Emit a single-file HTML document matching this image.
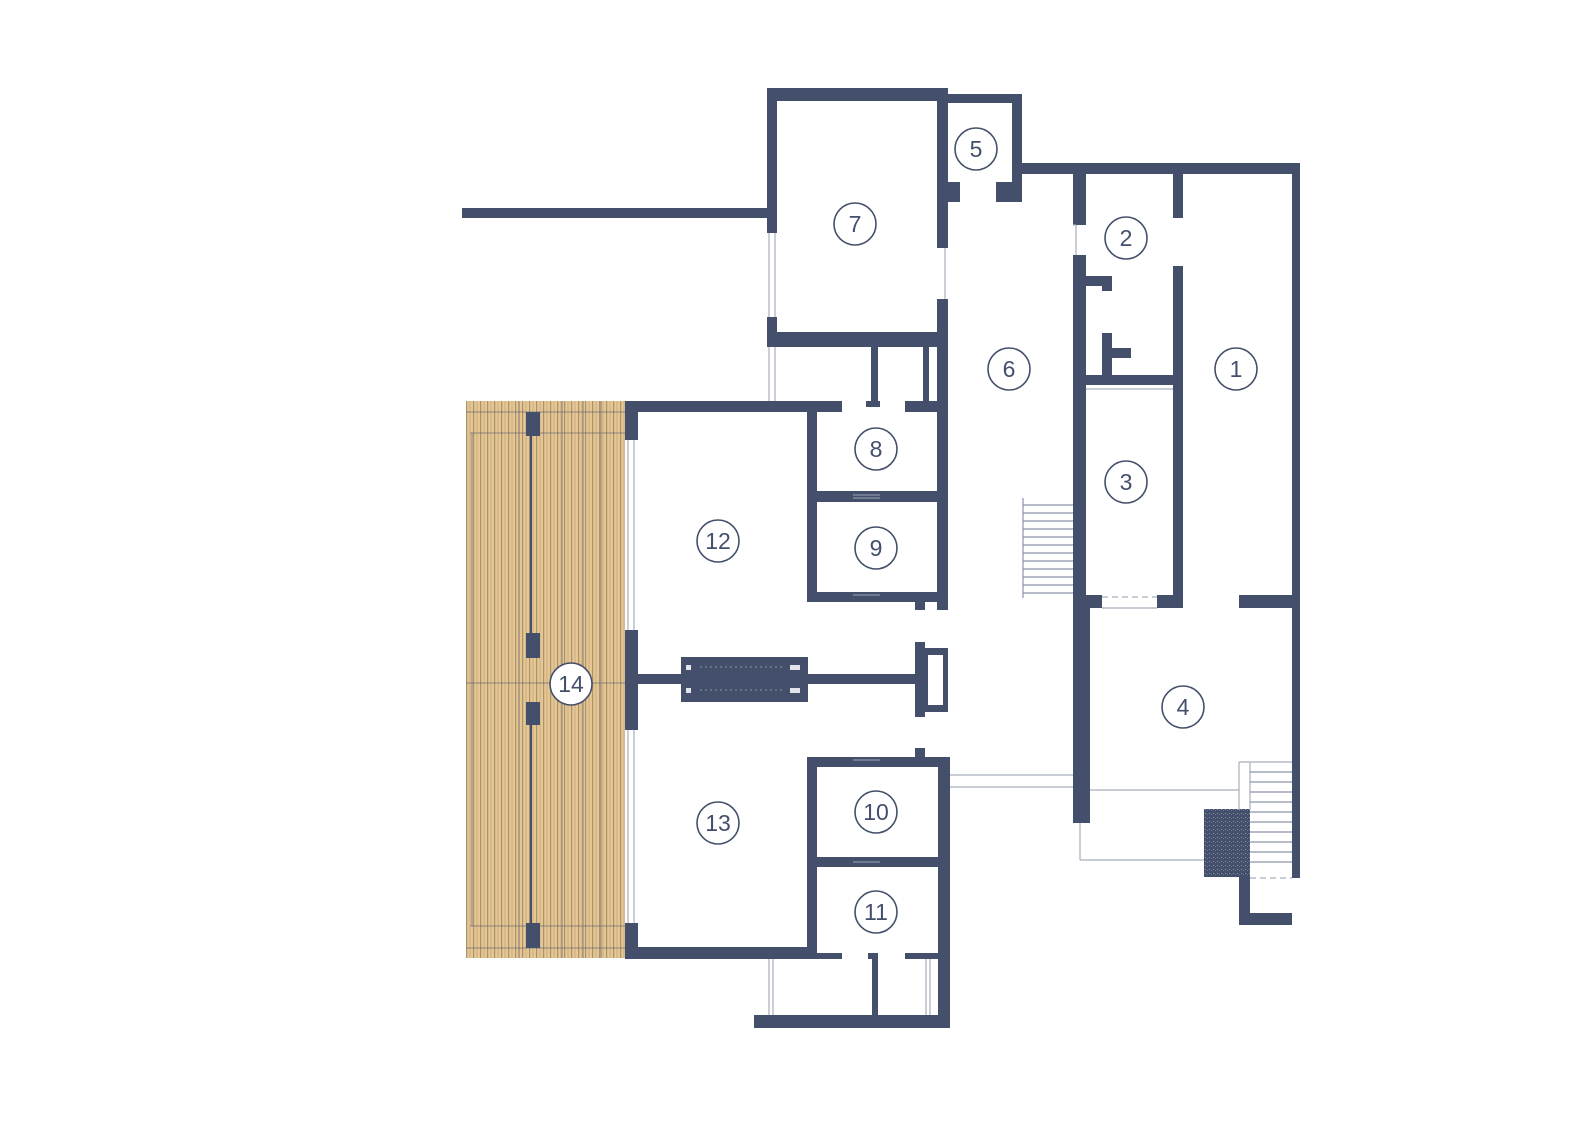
<!DOCTYPE html>
<html><head><meta charset="utf-8"><style>
html,body{margin:0;padding:0;background:#fff;}
svg{display:block;}
text{font-family:"Liberation Sans",sans-serif;fill:#434f6b;}
</style></head><body>
<svg width="1594" height="1132" viewBox="0 0 1594 1132" xmlns="http://www.w3.org/2000/svg">
<defs>
<pattern id="deck" x="466" y="0" width="7" height="10" patternUnits="userSpaceOnUse">
<rect width="7" height="10" fill="#e7c692"/>
<rect x="0" width="1.2" height="10" fill="#a8936f"/>
<rect x="3.5" width="1" height="10" fill="#c7ad86"/>
</pattern>
<pattern id="speck" width="4" height="4" patternUnits="userSpaceOnUse">
<rect width="4" height="4" fill="#434f6b"/>
<rect x="1" y="1" width="1" height="1" fill="#8a93aa"/>
<rect x="3" y="2" width="1" height="1" fill="#6b7590"/>
</pattern>
</defs>

<!-- deck -->
<rect x="466" y="401" width="159" height="557" fill="url(#deck)"/>
<g stroke="#434f6b" stroke-width="0.8" opacity="0.7">
<line x1="466" y1="412" x2="625" y2="412"/><line x1="470" y1="433" x2="625" y2="433"/>
<line x1="470" y1="926" x2="625" y2="926"/><line x1="466" y1="948" x2="625" y2="948"/>
<line x1="466" y1="683" x2="625" y2="683"/>
<line x1="472" y1="433" x2="472" y2="926"/>
<line x1="562" y1="401" x2="562" y2="958"/><line x1="601" y1="401" x2="601" y2="958"/>
<line x1="519" y1="401" x2="519" y2="958"/><line x1="583" y1="401" x2="583" y2="958"/>
</g>
<g fill="#434f6b">
<rect x="526" y="412" width="14" height="24"/>
<rect x="526" y="633" width="14" height="25"/>
<rect x="526" y="702" width="14" height="23"/>
<rect x="526" y="923" width="14" height="25"/>
<rect x="530" y="436" width="2" height="197"/>
<rect x="530" y="725" width="2" height="198"/>
</g>

<g fill="#434f6b">
<!-- room 7 -->
<rect x="767" y="88" width="181" height="13"/>
<rect x="767" y="88" width="10" height="145"/>
<rect x="767" y="317" width="10" height="30"/>
<rect x="767" y="332" width="181" height="15"/>
<rect x="937" y="88" width="11" height="160"/>
<rect x="937" y="299" width="11" height="311"/>
<!-- left line -->
<rect x="462" y="208" width="305" height="10"/>
<!-- room 5 -->
<rect x="937" y="94" width="85" height="9"/>
<rect x="1012" y="94" width="10" height="108"/>
<rect x="948" y="182" width="12" height="20"/>
<rect x="996" y="182" width="26" height="20"/>
<!-- right building -->
<rect x="1022" y="163" width="278" height="11"/>
<rect x="1292" y="163" width="8" height="715"/>
<rect x="1073" y="163" width="13" height="62"/>
<rect x="1073" y="255" width="13" height="568"/>
<rect x="1076" y="600" width="14" height="223"/>
<rect x="1173" y="174" width="10" height="44"/>
<rect x="1173" y="266" width="10" height="342"/>
<rect x="1086" y="276" width="26" height="10"/>
<rect x="1102" y="276" width="10" height="15"/>
<rect x="1102" y="333" width="10" height="42"/>
<rect x="1112" y="348" width="19" height="10"/>
<rect x="1086" y="375" width="87" height="10"/>
<rect x="1073" y="595" width="29" height="13"/>
<rect x="1157" y="595" width="26" height="13"/>
<rect x="1239" y="595" width="61" height="13"/>
<rect x="1239" y="810" width="11" height="115"/>
<rect x="1239" y="913" width="53" height="12"/>
<!-- under room 7 -->
<rect x="871" y="347" width="7" height="56"/>
<rect x="866" y="401" width="14" height="6"/>
<rect x="923" y="347" width="6" height="56"/>
<!-- room 12 top -->
<rect x="625" y="401" width="217" height="11"/>
<rect x="905" y="401" width="43" height="11"/>
<rect x="625" y="401" width="13" height="39"/>
<rect x="625" y="630" width="13" height="100"/>
<rect x="625" y="923" width="13" height="36"/>
<!-- rooms 8/9 -->
<rect x="807" y="412" width="10" height="190"/>
<rect x="938" y="401" width="10" height="201"/>
<rect x="807" y="491" width="141" height="11"/>
<rect x="807" y="592" width="141" height="10"/>
<rect x="915" y="602" width="10" height="8"/>
<!-- corridor -->
<rect x="638" y="674" width="277" height="10"/>
<rect x="681" y="657" width="127" height="45"/>
<rect x="915" y="642" width="10" height="75"/>
<rect x="925" y="648" width="23" height="64"/>
<!-- rooms 10/11 -->
<rect x="807" y="757" width="10" height="202"/>
<rect x="807" y="757" width="143" height="10"/>
<rect x="938" y="757" width="12" height="271"/>
<rect x="807" y="857" width="141" height="10"/>
<rect x="625" y="947" width="192" height="12"/>
<rect x="807" y="953" width="35" height="6"/>
<rect x="905" y="953" width="43" height="6"/>
<rect x="868" y="953" width="10" height="6"/>
<rect x="872" y="959" width="6" height="56"/>
<rect x="915" y="748" width="10" height="9"/>
<rect x="754" y="1015" width="196" height="13"/>
</g>
<rect x="928" y="655" width="15" height="50" fill="#fff"/>
<g fill="#fff" opacity="0.85">
<rect x="686" y="665" width="5" height="5"/><rect x="686" y="688" width="5" height="5"/>
<rect x="790" y="665" width="10" height="5"/><rect x="790" y="688" width="10" height="5"/>
</g>
<g stroke="#8a93aa" stroke-width="1" stroke-dasharray="2 3"><line x1="700" y1="667" x2="785" y2="667"/><line x1="700" y1="690" x2="785" y2="690"/></g>
<rect x="1204" y="809" width="46" height="68" fill="url(#speck)"/>

<g stroke="#a8adbb" stroke-width="1.2" fill="none">
<line x1="769" y1="233" x2="769" y2="317"/><line x1="775" y1="233" x2="775" y2="317"/>
<line x1="769" y1="347" x2="769" y2="401"/><line x1="775" y1="347" x2="775" y2="401"/>
<line x1="945" y1="248" x2="945" y2="299"/>
<line x1="628" y1="440" x2="628" y2="630"/><line x1="634" y1="440" x2="634" y2="630"/>
<line x1="628" y1="730" x2="628" y2="923"/><line x1="634" y1="730" x2="634" y2="923"/>
<line x1="769" y1="959" x2="769" y2="1015"/><line x1="773" y1="959" x2="773" y2="1015"/>
<line x1="926" y1="959" x2="926" y2="1015"/><line x1="930" y1="959" x2="930" y2="1015"/>
<line x1="950" y1="775" x2="1073" y2="775"/><line x1="950" y1="787" x2="1073" y2="787"/>
<line x1="1090" y1="790" x2="1239" y2="790"/>
<line x1="1080" y1="823" x2="1080" y2="860"/><line x1="1080" y1="860" x2="1204" y2="860"/>
<line x1="1239" y1="762" x2="1239" y2="810"/><line x1="1239" y1="762" x2="1292" y2="762"/>
<line x1="1250" y1="762" x2="1250" y2="810"/>
<line x1="1086" y1="389" x2="1173" y2="389"/>
<line x1="1102" y1="608" x2="1157" y2="608"/>
<line x1="1073" y1="225" x2="1076" y2="225"/><line x1="1076" y1="225" x2="1076" y2="255"/>
</g>
<g stroke="#a8adbb" stroke-width="1.2" stroke-dasharray="6 4">
<line x1="1102" y1="597" x2="1157" y2="597"/>
<line x1="1250" y1="878" x2="1292" y2="878"/>
</g>
<g stroke="#8a93aa" stroke-width="1.2">
<line x1="1023" y1="498" x2="1023" y2="598"/>
<line x1="1023" y1="505" x2="1073" y2="505"/><line x1="1023" y1="513" x2="1073" y2="513"/>
<line x1="1023" y1="521" x2="1073" y2="521"/><line x1="1023" y1="529" x2="1073" y2="529"/>
<line x1="1023" y1="537" x2="1073" y2="537"/><line x1="1023" y1="545" x2="1073" y2="545"/>
<line x1="1023" y1="553" x2="1073" y2="553"/><line x1="1023" y1="561" x2="1073" y2="561"/>
<line x1="1023" y1="569" x2="1073" y2="569"/><line x1="1023" y1="577" x2="1073" y2="577"/>
<line x1="1023" y1="585" x2="1073" y2="585"/><line x1="1023" y1="593" x2="1073" y2="593"/>
<line x1="1250" y1="772" x2="1292" y2="772"/><line x1="1250" y1="782" x2="1292" y2="782"/>
<line x1="1250" y1="792" x2="1292" y2="792"/><line x1="1250" y1="802" x2="1292" y2="802"/>
<line x1="1250" y1="812" x2="1292" y2="812"/><line x1="1250" y1="822" x2="1292" y2="822"/>
<line x1="1250" y1="832" x2="1292" y2="832"/><line x1="1250" y1="842" x2="1292" y2="842"/>
<line x1="1250" y1="852" x2="1292" y2="852"/><line x1="1250" y1="862" x2="1292" y2="862"/>
<line x1="853" y1="495" x2="880" y2="495"/><line x1="853" y1="498" x2="880" y2="498"/>
<line x1="853" y1="595" x2="880" y2="595"/><line x1="853" y1="760" x2="880" y2="760"/>
<line x1="853" y1="862" x2="880" y2="862"/>
</g>

<g stroke="#434f6b" stroke-width="1.6">
<circle cx="976" cy="149" r="21" fill="#fff"/>
<circle cx="855" cy="224" r="21" fill="#fff"/>
<circle cx="1126" cy="238" r="21" fill="#fff"/>
<circle cx="1009" cy="369" r="21" fill="#fff"/>
<circle cx="1236" cy="369" r="21" fill="#fff"/>
<circle cx="1126" cy="482" r="21" fill="#fff"/>
<circle cx="1183" cy="707" r="21" fill="#fff"/>
<circle cx="876" cy="449" r="21" fill="#fff"/>
<circle cx="876" cy="548" r="21" fill="#fff"/>
<circle cx="718" cy="541" r="21" fill="#fff"/>
<circle cx="571" cy="684" r="21" fill="#fff"/>
<circle cx="718" cy="823" r="21" fill="#fff"/>
<circle cx="876" cy="812" r="21" fill="#fff"/>
<circle cx="876" cy="912" r="21" fill="#fff"/>
</g>
<g font-size="23" text-anchor="middle" dominant-baseline="central">
<text x="976" y="149">5</text><text x="855" y="224">7</text>
<text x="1126" y="238">2</text><text x="1009" y="369">6</text>
<text x="1236" y="369">1</text><text x="1126" y="482">3</text>
<text x="1183" y="707">4</text><text x="876" y="449">8</text>
<text x="876" y="548">9</text><text x="718" y="541">12</text>
<text x="571" y="684">14</text><text x="718" y="823">13</text>
<text x="876" y="812">10</text><text x="876" y="912">11</text>
</g>
</svg>
</body></html>
